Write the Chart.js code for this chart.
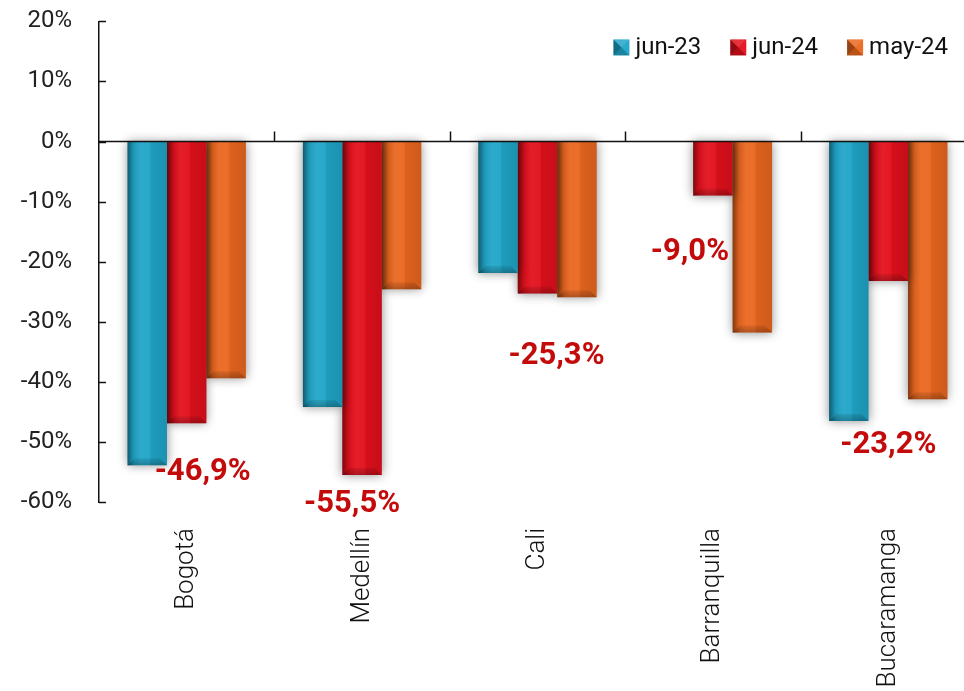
<!DOCTYPE html>
<html>
<head>
<meta charset="utf-8">
<script src="https://cdn.jsdelivr.net/npm/chart.js@4/dist/chart.umd.min.js"></script>
<style>
  html, body { margin: 0; padding: 0; background: #fff; overflow: hidden; }
  #wrap { position: relative; width: 976px; height: 711px; margin-top: -20px; }
</style>
</head>
<body>
<div id="wrap"><canvas id="ciudades"></canvas></div>
<script>
const ciudades = ['Bogotá', 'Medellín', 'Cali', 'Barranquilla', 'Bucaramanga'];
const series = ['jun-23', 'jun-24', 'may-24'];
const jun23 = [-53.9, -44.2, -21.9, 0, -46.5];
const jun24 = [-46.9, -55.5, -25.3, -9.0, -23.2];
const may24 = [-39.4, -24.6, -25.9, -31.8, -42.9];
const yTicks = [20, 10, 0, -10, -20, -30, -40, -50, -60];

const colores = ['#20a5c8', '#e2101c', '#ea671f'];
// desplazamiento [dx, dy] de cada etiqueta de jun-24 respecto al extremo de su barra
const etiquetaOffset = [[16, 49], [-10, 29], [19, 63], [-23, 57], [0, 164]];

const FONT = 'Roboto, "Open Sans", sans-serif';
const fmt = v => v.toFixed(1).replace('.', ',') + '%';

// sombra y relieve de las barras
const relieve = {
  id: 'relieve',
  beforeDatasetsDraw(chart) {
    const ctx = chart.ctx;
    ctx.save();
    ctx.shadowColor = 'rgba(0,0,0,0.45)';
    ctx.shadowBlur = 10;
  },
  afterDatasetsDraw(chart) {
    const ctx = chart.ctx;
    ctx.restore();
    ctx.save();
    chart.data.datasets.forEach((ds, i) => {
      chart.getDatasetMeta(i).data.forEach(bar => {
        const { x, y, base, width } = bar.getProps(['x', 'y', 'base', 'width'], true);
        const l = x - width / 2, r = x + width / 2;
        const t = Math.min(y, base), b = Math.max(y, base);
        if (b - t < 1) return;
        const g = ctx.createLinearGradient(l, 0, r, 0);
        g.addColorStop(0, 'rgba(0,0,0,0.45)');
        g.addColorStop(0.16, 'rgba(0,0,0,0.08)');
        g.addColorStop(0.35, 'rgba(255,255,255,0.06)');
        g.addColorStop(0.55, 'rgba(255,255,255,0.04)');
        g.addColorStop(0.6, 'rgba(0,0,0,0.06)');
        g.addColorStop(1, 'rgba(0,0,0,0.12)');
        ctx.fillStyle = g;
        ctx.fillRect(l, t, width, b - t);
        const e = Math.min(7, (b - t) / 2);
        const gb = ctx.createLinearGradient(0, b - e, 0, b);
        gb.addColorStop(0, 'rgba(0,0,0,0.08)');
        gb.addColorStop(1, 'rgba(0,0,0,0.25)');
        ctx.fillStyle = gb;
        ctx.beginPath();
        ctx.moveTo(l, b);
        ctx.lineTo(r, b);
        ctx.lineTo(r - e, b - e);
        ctx.lineTo(l + e, b - e);
        ctx.closePath();
        ctx.fill();
      });
    });
    ctx.restore();
  }
};

// línea del cero, marcas de categoría y marcas interiores del eje y
const ejes = {
  id: 'ejes',
  afterDatasetsDraw(chart) {
    const { ctx, chartArea, scales: { x, y } } = chart;
    const y0 = y.getPixelForValue(0);
    ctx.save();
    ctx.strokeStyle = '#111';
    ctx.lineWidth = 1.5;
    ctx.beginPath();
    ctx.moveTo(chartArea.left, y0);
    ctx.lineTo(chartArea.right, y0);
    for (let i = 1; i < ciudades.length; i++) {
      const xb = Math.round((x.getPixelForValue(i - 1) + x.getPixelForValue(i)) / 2) + 0.5;
      ctx.moveTo(xb, y0);
      ctx.lineTo(xb, y0 - 10);
    }
    yTicks.forEach(v => {
      const yy = Math.round(y.getPixelForValue(v)) + 0.5;
      ctx.moveTo(chartArea.left, yy);
      ctx.lineTo(chartArea.left + 7, yy);
    });
    ctx.stroke();
    ctx.restore();
  }
};

// etiquetas con el valor de jun-24
const etiquetas = {
  id: 'etiquetas',
  afterDraw(chart) {
    const ctx = chart.ctx;
    const meta = chart.getDatasetMeta(1);
    ctx.save();
    ctx.font = 'bold 31px ' + FONT;
    ctx.fillStyle = '#c40b0b';
    ctx.textAlign = 'center';
    ctx.textBaseline = 'middle';
    meta.data.forEach((bar, i) => {
      const [dx, dy] = etiquetaOffset[i];
      ctx.fillText(fmt(jun24[i]), bar.x + dx, bar.y + dy);
    });
    ctx.restore();
  }
};

// leyenda dentro del área, alineada a la derecha
const leyenda = {
  id: 'leyenda',
  afterDraw(chart) {
    const { ctx, chartArea } = chart;
    const box = 16, cy = chartArea.top + 26;
    ctx.save();
    ctx.font = '24px ' + FONT;
    ctx.textBaseline = 'middle';
    ctx.textAlign = 'left';
    let xr = 948;
    for (let i = series.length - 1; i >= 0; i--) {
      const w = ctx.measureText(series[i]).width;
      const tx = xr - w;
      const bx = tx - 6 - box, by = cy - box / 2;
      ctx.fillStyle = colores[i];
      ctx.fillRect(bx, by, box, box);
      // caras de la pirámide
      const c = [bx + box / 2, by + box / 2];
      const caras = [
        [[bx, by], [bx + box, by], 'rgba(255,255,255,0.15)'],
        [[bx + box, by], [bx + box, by + box], 'rgba(255,255,255,0.05)'],
        [[bx + box, by + box], [bx, by + box], 'rgba(0,0,0,0.2)'],
        [[bx, by + box], [bx, by], 'rgba(0,0,0,0.35)']
      ];
      caras.forEach(([a, b, col]) => {
        ctx.fillStyle = col;
        ctx.beginPath();
        ctx.moveTo(a[0], a[1]);
        ctx.lineTo(b[0], b[1]);
        ctx.lineTo(c[0], c[1]);
        ctx.closePath();
        ctx.fill();
      });
      ctx.fillStyle = '#111';
      ctx.fillText(series[i], tx, cy + 1);
      xr = bx - 29;
    }
    ctx.restore();
  }
};

new Chart(document.getElementById('ciudades'), {
  type: 'bar',
  data: {
    labels: ciudades,
    datasets: [jun23, jun24, may24].map((d, i) => ({
      label: series[i],
      data: d,
      backgroundColor: colores[i],
      borderWidth: 0,
      categoryPercentage: 0.675,
      barPercentage: 1
    }))
  },
  options: {
    responsive: true,
    maintainAspectRatio: false,
    animation: false,
    layout: { padding: { top: 10, left: 0, right: 0, bottom: 0 } },
    plugins: {
      legend: { display: false },
      tooltip: { enabled: false }
    },
    scales: {
      x: {
        grid: { display: false },
        border: { display: false },
        ticks: {
          maxRotation: 90,
          minRotation: 90,
          padding: 18,
          color: '#111',
          font: { family: FONT, size: 26, weight: 300 }
        },
        afterFit: s => { s.height = 189; }
      },
      y: {
        min: -60,
        max: 20,
        grid: { display: false, drawTicks: false },
        border: { display: true, color: '#111', width: 1.5 },
        afterBuildTicks: s => { s.ticks = yTicks.map(v => ({ value: v })); },
        ticks: {
          padding: 27,
          color: '#222',
          font: { family: FONT, size: 24 },
          callback: v => v + '%'
        },
        afterFit: s => { s.width = 99; }
      }
    }
  },
  plugins: [relieve, ejes, etiquetas, leyenda]
});
</script>
</body>
</html>
